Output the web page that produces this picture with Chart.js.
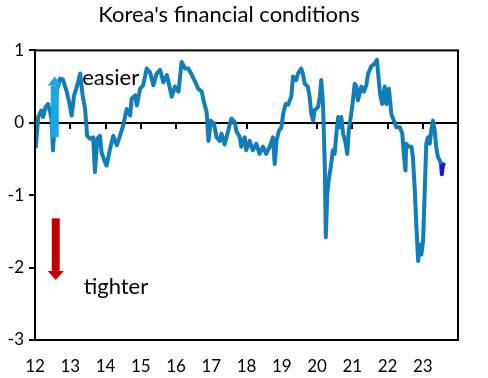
<!DOCTYPE html>
<html>
<head>
<meta charset="utf-8">
<script src="https://cdn.jsdelivr.net/npm/chart.js@4.4.0/dist/chart.umd.min.js"></script>
<style>
  html, body { margin: 0; padding: 0; background: #fff; }
</style>
</head>
<body>
<canvas id="fciChart" width="488" height="378"></canvas>
<script>
// Korea financial conditions index (x = year, 12 = 2012)
const years = [
    12.02, 12.09, 12.18, 12.23, 12.30, 12.37, 12.43, 12.47, 12.51, 12.57,
    12.62, 12.71, 12.79, 12.90, 12.99, 13.04, 13.11, 13.20, 13.28, 13.35,
    13.42, 13.48, 13.56, 13.65, 13.70, 13.77, 13.84, 13.89, 13.99, 14.03,
    14.13, 14.22, 14.32, 14.41, 14.50, 14.60, 14.70, 14.74, 14.84, 14.89,
    14.98, 15.07, 15.17, 15.26, 15.31, 15.36, 15.45, 15.55, 15.64, 15.74,
    15.83, 15.88, 15.97, 16.07, 16.16, 16.26, 16.35, 16.45, 16.54, 16.63,
    16.73, 16.79, 16.87, 16.92, 16.99, 17.08, 17.15, 17.24, 17.29, 17.38,
    17.48, 17.57, 17.67, 17.71, 17.81, 17.85, 17.95, 17.99, 18.09, 18.18,
    18.28, 18.37, 18.47, 18.56, 18.66, 18.75, 18.80, 18.85, 18.92, 18.99,
    19.04, 19.11, 19.18, 19.27, 19.32, 19.41, 19.46, 19.55, 19.60, 19.65,
    19.74, 19.79, 19.84, 19.89, 19.93, 20.03, 20.08, 20.12, 20.17, 20.22,
    20.25, 20.29, 20.33, 20.39, 20.45, 20.50, 20.55, 20.60, 20.64, 20.69,
    20.74, 20.80, 20.86, 20.90, 20.97, 21.02, 21.07, 21.12, 21.16, 21.26,
    21.33, 21.40, 21.45, 21.54, 21.64, 21.70, 21.74, 21.79, 21.85, 21.92,
    21.97, 22.04, 22.11, 22.18, 22.25, 22.35, 22.42, 22.46, 22.51, 22.53,
    22.61, 22.68, 22.72, 22.77, 22.82, 22.87, 22.91, 22.96, 23.01, 23.06,
    23.10, 23.15, 23.20, 23.24, 23.29, 23.34, 23.38, 23.43, 23.48, 23.52
];
const fci = [
    -0.35, 0.08, 0.17, 0.08, 0.22, 0.26, 0.15, 0.05, -0.38, 0.10,
    0.45, 0.61, 0.60, 0.43, 0.24, 0.10, 0.38, 0.52, 0.68, 0.38,
    0.20, -0.18, -0.22, -0.20, -0.68, -0.22, -0.18, -0.41, -0.55, -0.59,
    -0.36, -0.18, -0.31, -0.18, -0.04, 0.19, 0.10, 0.33, 0.38, 0.24,
    0.47, 0.52, 0.75, 0.70, 0.61, 0.52, 0.68, 0.73, 0.56, 0.66,
    0.47, 0.36, 0.50, 0.43, 0.84, 0.75, 0.75, 0.66, 0.57, 0.47,
    0.43, 0.29, 0.15, -0.25, 0.03, -0.02, -0.20, -0.25, -0.15, -0.30,
    -0.11, 0.06, 0.01, -0.11, -0.20, -0.33, -0.20, -0.38, -0.25, -0.38,
    -0.29, -0.43, -0.33, -0.43, -0.33, -0.20, -0.57, -0.25, -0.11, -0.06,
    0.12, 0.26, 0.25, 0.36, 0.64, 0.59, 0.68, 0.75, 0.68, 0.54,
    0.50, 0.36, 0.12, 0.03, 0.17, 0.22, 0.36, 0.59, 0.26, -0.57,
    -1.58, -0.99, -0.80, -0.61, -0.38, -0.43, -0.15, 0.08, -0.06, 0.08,
    -0.15, -0.25, -0.43, -0.11, 0.12, 0.31, 0.54, 0.50, 0.31, 0.50,
    0.43, 0.52, 0.68, 0.78, 0.82, 0.87, 0.65, 0.40, 0.26, 0.50,
    0.26, 0.47, 0.12, 0.03, -0.06, -0.06, -0.15, -0.43, -0.66, -0.29,
    -0.33, -0.33, -0.47, -0.89, -1.44, -1.91, -1.68, -1.82, -1.63, -0.89,
    -0.29, -0.20, -0.29, -0.11, 0.03, -0.11, -0.33, -0.47, -0.52, -0.57
];

// most recent weeks, shown in dark blue
const latestYears = [23.52, 23.54, 23.57, 23.60];
const latestFci = [-0.57, -0.71, -0.60, -0.55];

const yearTicks = [12, 13, 14, 15, 16, 17, 18, 19, 20, 21, 22, 23];

const FONT = 'Lato, "Open Sans", sans-serif';

function toPoints(xs, ys) {
    return xs.map((x, i) => ({ x: x, y: ys[i] }));
}

function drawArrow(ctx, x, yFrom, yTo, shaftW, headW, headLen, color) {
    const dir = yTo < yFrom ? 1 : -1; // 1 = pointing up on screen
    const headBase = yTo + dir * headLen;
    ctx.save();
    ctx.fillStyle = color;
    ctx.fillRect(x - shaftW / 2, Math.min(yFrom, headBase), shaftW, Math.abs(yFrom - headBase));
    ctx.beginPath();
    ctx.moveTo(x - headW / 2, headBase);
    ctx.lineTo(x + headW / 2, headBase);
    ctx.lineTo(x, yTo);
    ctx.closePath();
    ctx.fill();
    ctx.restore();
}

// box round the plot area
const frame = {
    id: 'frame',
    afterDraw(chart) {
        const { ctx, chartArea: a } = chart;
        ctx.save();
        ctx.strokeStyle = '#000';
        ctx.lineWidth = 2;
        ctx.strokeRect(a.left, a.top, a.right - a.left, a.bottom - a.top);
        ctx.restore();
    }
};

// easier / tighter arrows and words
const notes = {
    id: 'notes',
    afterDatasetsDraw(chart) {
        const { ctx, scales } = chart;
        const x = scales.x, y = scales.y;
        const ax = x.getPixelForValue(12.56);
        drawArrow(ctx, ax, y.getPixelForValue(-0.2), y.getPixelForValue(0.64), 8, 14, 9, '#1aa7e6');
        drawArrow(ctx, ax + 1, y.getPixelForValue(-1.32), y.getPixelForValue(-2.17), 8, 16, 9, '#c00000');
        ctx.save();
        ctx.fillStyle = '#000';
        ctx.font = '22px ' + FONT;
        ctx.textBaseline = 'middle';
        ctx.textAlign = 'left';
        ctx.fillText('easier', x.getPixelForValue(13.34), y.getPixelForValue(0.62));
        ctx.fillText('tighter', x.getPixelForValue(13.38), y.getPixelForValue(-2.27));
        ctx.restore();
    }
};

const chartData = {
    datasets: [
        {
            data: toPoints(years, fci),
            borderColor: '#117db9',
            borderWidth: 4,
            pointRadius: 0,
            borderJoinStyle: 'round',
            tension: 0,
        },
        {
            data: toPoints(latestYears, latestFci),
            borderColor: '#1414e6',
            borderWidth: 4,
            pointRadius: 0,
            borderJoinStyle: 'round',
            tension: 0,
        }
    ]
};

const options = {
    responsive: false,
    animation: false,
    layout: { padding: { right: 30 } },
    plugins: {
        legend: { display: false },
        tooltip: { enabled: false },
        title: {
            display: true,
            text: "Korea's financial conditions",
            color: '#000',
            font: { family: FONT, size: 22, weight: 'normal' },
            padding: { top: 2, bottom: 22 },
        },
    },
    scales: {
        x: {
            type: 'linear',
            position: 'bottom',
            min: 12,
            max: 24,
            afterBuildTicks: s => { s.ticks = yearTicks.map(v => ({ value: v })); },
            ticks: {
                color: '#000',
                font: { family: FONT, size: 17 },
                padding: 16,
                maxRotation: 0,
                autoSkip: false,
            },
            grid: { display: false, drawTicks: false },
            border: { color: '#000', width: 2 },
            afterFit: s => { s.height = 38; },
        },
        // tick marks hanging off the zero line
        xZero: {
            type: 'linear',
            position: { y: 0 },
            min: 12,
            max: 24,
            afterBuildTicks: s => { s.ticks = yearTicks.map(v => ({ value: v })); },
            ticks: { display: false },
            grid: { drawOnChartArea: false, color: '#000', lineWidth: 2, tickLength: 6 },
            border: { display: false },
        },
        y: {
            min: -3,
            max: 1,
            ticks: {
                stepSize: 1,
                color: '#000',
                font: { family: FONT, size: 17 },
                padding: 5,
            },
            grid: {
                color: ctx => ctx.tick && ctx.tick.value === 0 ? '#000' : 'rgba(0,0,0,0)',
                tickColor: '#000',
                lineWidth: 2,
                tickLength: 6,
            },
            border: { color: '#000', width: 2 },
            afterFit: s => { s.width = 35; },
        }
    }
};

const canvas = document.getElementById('fciChart').getContext('2d');

const existingChart = Chart.getChart('fciChart');
if (existingChart) {
    existingChart.destroy();
}

const fciChart = new Chart(canvas, {
    type: 'line',
    data: chartData,
    options: options,
    plugins: [frame, notes],
});
</script>
</body>
</html>
